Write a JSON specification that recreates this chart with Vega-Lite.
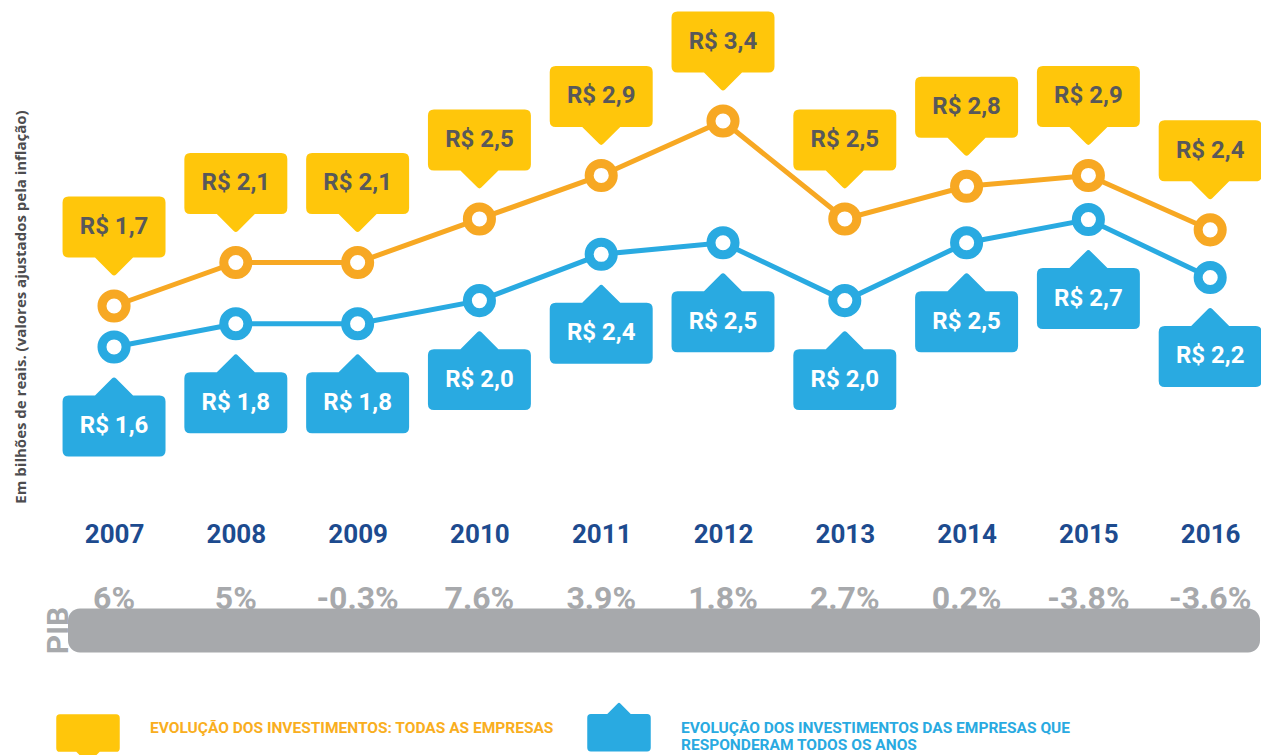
{
  "$schema": "https://vega.github.io/schema/vega-lite/v6.json",
  "background": "white",
  "padding": {"left": 13, "top": -7.5, "right": 0, "bottom": 0},
  "config": {"view": {"stroke": null}, "font": "Roboto"},
  "datasets": {
    "d": [
      {"ano": 2007, "todas": 1.7, "responderam": 1.6, "pib": 6},
      {"ano": 2008, "todas": 2.1, "responderam": 1.8, "pib": 5},
      {"ano": 2009, "todas": 2.1, "responderam": 1.8, "pib": -0.3},
      {"ano": 2010, "todas": 2.5, "responderam": 2.0, "pib": 7.6},
      {"ano": 2011, "todas": 2.9, "responderam": 2.4, "pib": 3.9},
      {"ano": 2012, "todas": 3.4, "responderam": 2.5, "pib": 1.8},
      {"ano": 2013, "todas": 2.5, "responderam": 2.0, "pib": 2.7},
      {"ano": 2014, "todas": 2.8, "responderam": 2.5, "pib": 0.2},
      {"ano": 2015, "todas": 2.9, "responderam": 2.7, "pib": -3.8},
      {"ano": 2016, "todas": 2.4, "responderam": 2.2, "pib": -3.6}
    ]
  },
  "data": {"name": "d"},
  "bounds": "flush",
  "spacing": 105,
  "vconcat": [
    {
      "width": 1192,
      "height": 505,
      "view": {"fill": "white", "stroke": null},
      "transform": [
        {"fold": ["todas", "responderam"], "as": ["serie", "valor"]},
        {"calculate": "datum.serie", "as": "cor"},
        {"calculate": "'R$ ' + replace(format(datum.valor, '.1f'), '.', ',')", "as": "lab"}
      ],
      "encoding": {
        "x": {
          "field": "ano",
          "type": "quantitative",
          "scale": {"domain": [2006.622, 2016.409], "nice": false, "zero": false},
          "axis": {
            "values": [2007, 2008, 2009, 2010, 2011, 2012, 2013, 2014, 2015, 2016],
            "format": "d",
            "title": null,
            "domain": false,
            "ticks": false,
            "grid": false,
            "labelFont": "Roboto",
            "labelFontSize": 26,
            "labelFontWeight": "bold",
            "labelColor": "#1D4B8F",
            "labelPadding": 18,
            "labelBaseline": "top",
            "labelFlush": false,
            "labelOverlap": false
          }
        }
      },
      "resolve": {"scale": {"y": "independent"}},
      "layer": [
        {
          "transform": [{"filter": "datum.serie === 'todas'"}],
          "encoding": {
            "y": {
              "field": "valor",
              "type": "quantitative",
              "scale": {"domain": [-0.115, 4.526], "nice": false, "zero": false},
              "axis": {
                "title": "Em bilhões de reais. (valores ajustados pela inflação)",
                "labels": false,
                "ticks": false,
                "domain": false,
                "grid": false,
                "titleFont": "Open Sans",
                "titleFontSize": 15,
                "titleFontWeight": "bold",
                "titleColor": "#4D4D4F",
                "titleX": -40,
                "titleY": 308,
                "titleAngle": -90,
                "titleBaseline": "bottom",
                "titleAlign": "center"
              }
            }
          },
          "layer": [
            {"mark": {"type": "line", "stroke": "#F7A823", "strokeWidth": 5}},
            {"mark": {"type": "circle", "fill": "white", "stroke": "#F7A823", "strokeWidth": 9, "size": 580, "opacity": 1}},
            {
              "mark": {"type": "point", "filled": true, "strokeWidth": 0, "size": 14400, "opacity": 1, "yOffset": -79},
              "encoding": {
                "fill": {
                  "field": "cor",
                  "type": "nominal",
                  "scale": {"domain": ["todas", "responderam"], "range": ["#FFC60B", "#29AAE1"]},
                  "legend": null
                },
                "shape": {
                  "field": "serie",
                  "type": "nominal",
                  "scale": {
                    "domain": ["todas", "responderam"],
                    "range": [
                      "M -0.758 -0.508 L 0.758 -0.508 Q 0.858 -0.508 0.858 -0.408 L 0.858 0.408 Q 0.858 0.508 0.758 0.508 L 0.317 0.508 L 0.035 0.79 Q 0 0.825 -0.035 0.79 L -0.317 0.508 L -0.758 0.508 Q -0.858 0.508 -0.858 0.408 L -0.858 -0.408 Q -0.858 -0.508 -0.758 -0.508 Z M 0 -0.825 Z",
                      "M -0.758 0.508 L 0.758 0.508 Q 0.858 0.508 0.858 0.408 L 0.858 -0.408 Q 0.858 -0.508 0.758 -0.508 L 0.317 -0.508 L 0.035 -0.79 Q 0 -0.825 -0.035 -0.79 L -0.317 -0.508 L -0.758 -0.508 Q -0.858 -0.508 -0.858 -0.408 L -0.858 0.408 Q -0.858 0.508 -0.758 0.508 Z M 0 0.825 Z"
                    ]
                  },
                  "legend": {
                    "orient": "none",
                    "legendX": -17,
                    "legendY": 697,
                    "direction": "horizontal",
                    "title": null,
                    "symbolSize": 5476,
                    "symbolStrokeWidth": 0,
                    "symbolOpacity": 1,
                    "symbolFillColor": {"expr": "datum.value === 'todas' ? '#F9AE20' : '#29AAE1'"},
                    "labelColor": {"expr": "datum.value === 'todas' ? '#F9AE20' : '#29AAE1'"},
                    "labelFont": "Roboto",
                    "labelFontSize": 15.5,
                    "labelFontWeight": "bold",
                    "labelBaseline": "alphabetic",
                    "labelOffset": 25,
                    "columnPadding": 28,
                    "labelLimit": 700,
                    "labelExpr": "datum.label === 'todas' ? 'EVOLUÇÃO DOS INVESTIMENTOS: TODAS AS EMPRESAS' : ['EVOLUÇÃO DOS INVESTIMENTOS DAS EMPRESAS QUE', 'RESPONDERAM TODOS OS ANOS']"
                  }
                }
              }
            },
            {
              "mark": {"type": "text", "dy": -79, "fontSize": 24, "fontWeight": "bold", "font": "Roboto", "fill": "#58585A", "baseline": "middle", "align": "center"},
              "encoding": {"text": {"field": "lab"}}
            }
          ]
        },
        {
          "transform": [{"filter": "datum.serie === 'responderam'"}],
          "encoding": {
            "y": {
              "field": "valor",
              "type": "quantitative",
              "scale": {"domain": [0.248, 4.609], "nice": false, "zero": false},
              "axis": null
            }
          },
          "layer": [
            {"mark": {"type": "line", "stroke": "#29AAE1", "strokeWidth": 5}},
            {"mark": {"type": "circle", "fill": "white", "stroke": "#29AAE1", "strokeWidth": 9, "size": 580, "opacity": 1}},
            {
              "mark": {"type": "point", "filled": true, "strokeWidth": 0, "size": 14400, "opacity": 1, "yOffset": 79},
              "encoding": {
                "fill": {"field": "cor", "type": "nominal", "legend": null},
                "shape": {"field": "serie", "type": "nominal"}
              }
            },
            {
              "mark": {"type": "text", "dy": 79, "fontSize": 24, "fontWeight": "bold", "font": "Roboto", "fill": "white", "baseline": "middle", "align": "center"},
              "encoding": {"text": {"field": "lab"}}
            }
          ]
        }
      ]
    },
    {
      "width": 1192,
      "height": 44,
      "view": {"fill": "#A7A9AC", "stroke": null, "cornerRadius": 12},
      "title": {"text": "PIB", "orient": "left", "anchor": "middle", "font": "Roboto", "fontSize": 30, "fontWeight": "bold", "color": "#A7A9AC", "offset": -6},
      "transform": [{"calculate": "replace(format(datum.pib, '.1~f'), '−', '-') + '%'", "as": "pib_lab"}],
      "mark": {"type": "text", "dy": -22, "fontSize": 32, "fontWeight": "bold", "font": "Roboto", "fill": "#A7A9AC", "baseline": "alphabetic", "align": "center"},
      "encoding": {
        "x": {"field": "ano", "type": "quantitative", "scale": {"domain": [2006.622, 2016.409], "nice": false, "zero": false}, "axis": null},
        "text": {"field": "pib_lab"}
      }
    }
  ]
}
